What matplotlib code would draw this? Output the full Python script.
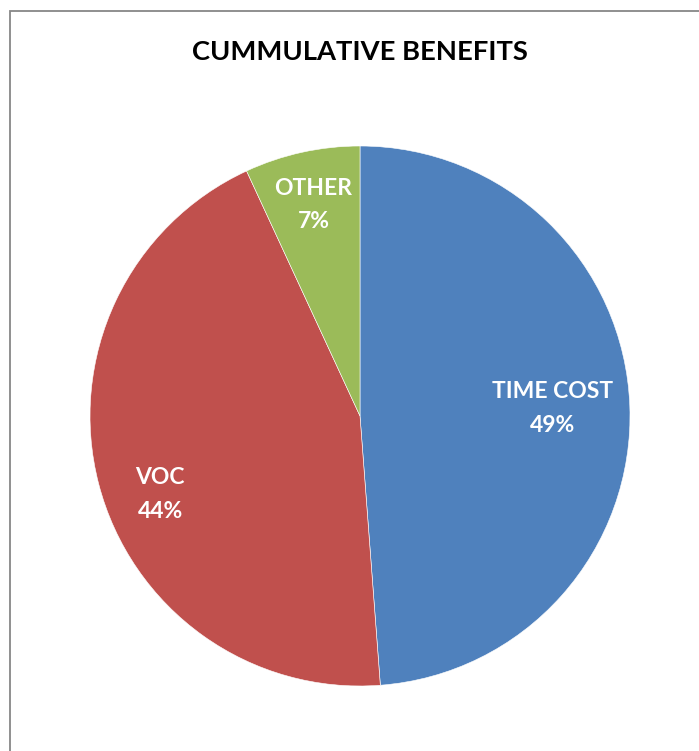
import numpy as np
import matplotlib
matplotlib.use('Agg')
import matplotlib.pyplot as plt
from matplotlib.patches import Rectangle

# Data
categories = ['TIME COST', 'VOC', 'OTHER']
shares = [48.8, 44.3, 6.9]
pct_labels = ['49%', '44%', '7%']
colors = ['#4F81BD', '#C0504D', '#9BBB59']

plt.rcParams['font.family'] = ['Lato', 'DejaVu Sans']

W, H = 699, 751
fig = plt.figure(figsize=(W / 100, H / 100), dpi=100)

# chart border (left and top only are visible)
fig.patches.append(Rectangle((10 / W, -0.1), 2.0, 1.1 - 11 / H, transform=fig.transFigure,
                             fill=False, edgecolor='#878787', linewidth=1.3))

fig.text(360 / W, 1 - 52 / H, 'CUMMULATIVE BENEFITS', ha='center', va='center',
         fontsize=19.7, fontweight='bold', color='black')

# pie axes: centre (360, 416), radius 270 px
ax = fig.add_axes([90 / W, (H - 686) / H, 540 / W, 540 / H])
wedges, _ = ax.pie(shares, colors=colors, startangle=90, counterclock=False,
                   wedgeprops=dict(edgecolor='white', linewidth=0.4))
ax.set_xlim(-1, 1)
ax.set_ylim(-1, 1)
ax.set_aspect('equal')
ax.axis('off')

# label placement: radius and angle nudge (deg) per slice
label_r = [0.715, 0.795, 0.8]
label_nudge = [0, 6.8, 0]
for w, cat, pct, r, dn in zip(wedges, categories, pct_labels, label_r, label_nudge):
    ang = np.deg2rad((w.theta1 + w.theta2) / 2 + dn)
    ax.text(r * np.cos(ang), r * np.sin(ang), f'{cat}\n{pct}', ha='center', va='center',
            fontsize=16.5, fontweight='bold', color='white', linespacing=1.75)

fig.savefig('out.png', dpi=100)
